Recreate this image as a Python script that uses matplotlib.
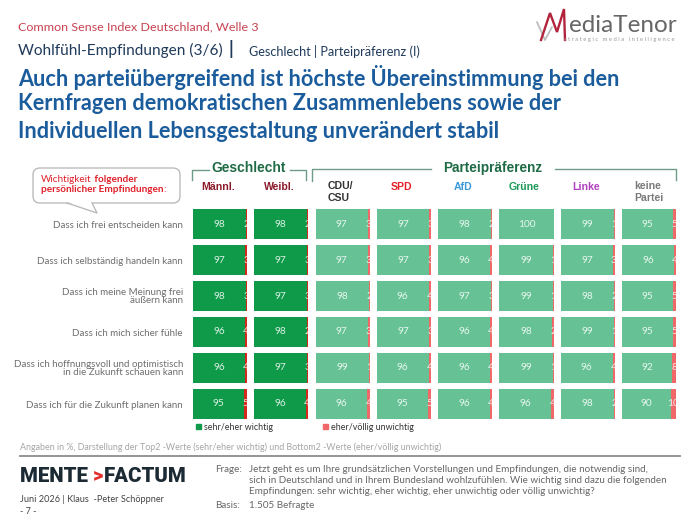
import matplotlib
matplotlib.use("Agg")
import matplotlib.pyplot as plt
from matplotlib.patches import Patch, FancyBboxPatch, Polygon

# ---------------- data ----------------
items = [
    "Dass ich frei entscheiden kann",
    "Dass ich selbständig handeln kann",
    "Dass ich meine Meinung frei\näußern kann",
    "Dass ich mich sicher fühle",
    "Dass ich hoffnungsvoll und optimistisch\nin die Zukunft schauen kann",
    "Dass ich für die Zukunft planen kann",
]
groups = ["Männl.", "Weibl.", "CDU/\nCSU", "SPD", "AfD", "Grüne", "Linke", "keine\nPartei"]
group_colors = ["#8c1c2c", "#8c1c2c", "#333333", "#e8202a", "#3a9ad9", "#1e9a5a", "#b040c0", "#7a7a7a"]

top2_maennl = [98, 97, 98, 96, 96, 95]
top2_weibl = [98, 97, 97, 98, 97, 96]
top2_cdu = [97, 97, 98, 97, 99, 96]
top2_spd = [97, 97, 96, 97, 96, 95]
top2_afd = [98, 96, 97, 96, 96, 96]
top2_gruene = [100, 99, 99, 98, 99, 96]
top2_linke = [99, 97, 98, 99, 96, 98]
top2_keine = [95, 96, 95, 95, 92, 90]

bottom2_maennl = [2, 3, 3, 4, 4, 5]
bottom2_weibl = [2, 3, 3, 2, 3, 4]
bottom2_cdu = [3, 3, 2, 3, 1, 4]
bottom2_spd = [3, 3, 4, 3, 4, 5]
bottom2_afd = [2, 4, 3, 4, 4, 4]
bottom2_gruene = [0, 1, 1, 2, 1, 4]
bottom2_linke = [1, 3, 2, 1, 4, 2]
bottom2_keine = [5, 4, 5, 5, 8, 10]

top2 = [top2_maennl, top2_weibl, top2_cdu, top2_spd, top2_afd, top2_gruene, top2_linke, top2_keine]
bottom2 = [bottom2_maennl, bottom2_weibl, bottom2_cdu, bottom2_spd, bottom2_afd,
           bottom2_gruene, bottom2_linke, bottom2_keine]

legend_labels = ["sehr/eher wichtig", "eher/völlig unwichtig"]

# ---------------- layout ----------------
W, H = 700, 525
fig = plt.figure(figsize=(7, 5.25), dpi=100)
fig.patch.set_facecolor("white")
ov = fig.add_axes([0, 0, 1, 1], zorder=0)
ov.set_xlim(0, W)
ov.set_ylim(H, 0)
ov.axis("off")
R = fig.canvas.get_renderer()

BODY = "Lato"
ARIAL = "Liberation Sans"


def fit(t, w):
    bb = t.get_window_extent(R)
    t.set_fontsize(t.get_fontsize() * w / bb.width)
    return t.get_fontsize()


def measure_size(s, w, **kw):
    t = ov.text(0, 0, s, fontsize=10, **kw)
    size = fit(t, w)
    t.remove()
    return size


# ---------------- header ----------------
t = ov.text(18, 27, "Common Sense Index Deutschland, Welle 3", color="#c8414f",
            family=BODY, va="center", fontsize=9)
fit(t, 240)
t = ov.text(18, 50, "Wohlfühl-Empfindungen (3/6)", color="#1f3a5a", family=BODY,
            va="center", fontsize=11)
fit(t, 204)
ov.text(228, 49, "|", color="#1f3a5a", family=BODY, va="center", fontsize=13, fontweight="bold")
t = ov.text(249, 51, "Geschlecht | Parteipräferenz (I)", color="#1f3a5a", family=BODY,
            va="center", fontsize=8)
fit(t, 171)

title_lines = ["Auch parteiübergreifend ist höchste Übereinstimmung bei den",
               "Kernfragen demokratischen Zusammenlebens sowie der",
               "Individuellen Lebensgestaltung unverändert stabil"]
tsize = measure_size(title_lines[0], 602, family=BODY, fontweight="bold")
for i, line in enumerate(title_lines):
    ov.text(18, 77 + 27 * i, line, color="#1b5c9c", family=BODY, fontweight="bold",
            va="center", fontsize=tsize)

# logo
ov.plot([537, 545, 552], [22, 40, 27], color="#bdbdbd", lw=1.3, solid_capstyle="round")
ov.plot([541, 550, 557, 564, 565], [40, 13, 32, 9, 40], color="#b3243c", lw=1.7,
        solid_joinstyle="miter")
t = ov.text(569, 32, "ediaTenor", color="#666666", family=BODY, va="baseline", fontsize=16)
fit(t, 108)
t = ov.text(564, 40, "s t r a t e g i c   m e d i a   i n t e l l i g e n c e",
            color="#999999", family=BODY, va="center", fontsize=4)
fit(t, 108)

# ---------------- speech bubble ----------------
box = FancyBboxPatch((33, 168), 147, 35, boxstyle="round,pad=0,rounding_size=7",
                     fc="white", ec="#b5b5b5", lw=0.9, zorder=1)
ov.add_patch(box)
ov.add_patch(Polygon([(67.5, 202), (97, 213), (91.5, 202)], closed=True, fc="white",
                     ec="none", zorder=2))
ov.plot([67, 97, 92], [203, 213, 203], color="#b5b5b5", lw=0.9, zorder=3)
bsz = 7.2
b1 = ov.text(41, 180, "Wichtigkeit", color="#e0202a", family=BODY, fontsize=bsz, va="center")
ov.annotate(" folgender", xy=(1, 0.5), xycoords=b1, color="#e0202a", family=BODY,
            fontsize=bsz, fontweight="bold", va="center")
b2 = ov.text(41, 190, "persönlicher Empfindungen", color="#e0202a", family=BODY,
             fontsize=bsz, fontweight="bold", va="center")
ov.annotate(":", xy=(1, 0.5), xycoords=b2, color="#e0202a", family=BODY,
            fontsize=bsz, va="center")

# ---------------- column headers ----------------
lc = "#6f9c86"
ov.plot([192, 192, 209], [180, 170, 170], color=lc, lw=1)
ov.plot([290, 306, 306], [170, 170, 180], color=lc, lw=1)
ov.plot([312, 312, 431], [181, 169, 169], color=lc, lw=1)
ov.plot([555, 676, 676], [169, 169, 180], color=lc, lw=1)
t = ov.text(249, 168, "Geschlecht", color="#1e6b45", family=ARIAL, fontweight="bold",
            ha="center", va="center", fontsize=9)
fit(t, 74)
t = ov.text(493, 168, "Parteipräferenz", color="#1e6b45", family=ARIAL, fontweight="bold",
            ha="center", va="center", fontsize=9)
fit(t, 99)

# ---------------- panels ----------------
left0, step, bw = 193, 61.3, 54
row_top, pitch = 206, 36
n = len(items)
bar_h = 30 / 36
label_size = measure_size(items[0], 131, family=BODY)
axes = []
for gi, g in enumerate(groups):
    x0 = left0 + gi * step
    ax = fig.add_axes([x0 / W, 1 - (row_top + n * pitch) / H, bw / W, n * pitch / H], zorder=2)
    ax.patch.set_alpha(0)
    gender = gi < 2
    cg = "#0f9a4a" if gender else "#66c295"
    cr = "#d42a1e" if gender else "#f06868"
    ypos = list(range(n))
    ax.barh(ypos, top2[gi], height=bar_h, color=cg)
    ax.barh(ypos, bottom2[gi], left=top2[gi], height=bar_h, color=cr)
    ax.set_xlim(0, 100)
    ax.set_ylim(n - 0.5, -0.5)
    for sp in ax.spines.values():
        sp.set_visible(False)
    ax.set_xticks([])
    if gi == 0:
        ax.set_yticks(ypos)
        ax.set_yticklabels(items)
        ax.tick_params(axis="y", length=0, pad=7.2, labelcolor="#6e6e6e", labelsize=label_size)
        for lab in ax.get_yticklabels():
            lab.set_multialignment("right")
            lab.set_linespacing(0.85)
            lab.set_fontfamily(BODY)
    else:
        ax.set_yticks([])
    for i in range(n):
        v, r = top2[gi][i], bottom2[gi][i]
        ax.text(v / 2, i, f"{v}", ha="center", va="center", color="white", alpha=0.85,
                fontsize=7.3, family=BODY)
        if r > 0:
            ax.text(v + r / 2, i, f"{r}", ha="center", va="center", color="white",
                    alpha=0.85, fontsize=7.3, family=BODY, clip_on=True)
    # header
    cx = x0 + bw / 2
    if "\n" in g:
        ov.text(x0 + 12, 192, g, color=group_colors[gi], family=ARIAL, fontweight="bold",
                ha="left", va="center", fontsize=7.6, linespacing=1.25)
    else:
        ov.text(cx - 2, 187, g, color=group_colors[gi], family=ARIAL, fontweight="bold",
                ha="center", va="center", fontsize=7.6)
    axes.append(ax)

# legend
lsize = measure_size(legend_labels[0], 69, family=BODY)
handles = [Patch(color="#129a4c"), Patch(color="#f06868")]
leg = ov.legend(handles, legend_labels, loc="center left", bbox_to_anchor=(196, 427),
                bbox_transform=ov.transData, ncol=2, frameon=False, handlelength=0.6,
                handleheight=0.6, handletextpad=0.3, columnspacing=5.6,
                prop={"family": BODY, "size": lsize}, borderaxespad=0, borderpad=0)
for txt in leg.get_texts():
    txt.set_color("#333333")

# ---------------- footer ----------------
t = ov.text(20, 447, "Angaben in %, Darstellung der Top2 -Werte (sehr/eher wichtig) und "
            "Bottom2 -Werte (eher/völlig unwichtig)", color="#a5a5a5", family=BODY,
            va="center", fontsize=6)
fit(t, 423)
ov.plot([20, 680], [456, 456], color="#8c8c8c", lw=1.3)

mf = dict(family="Roboto", fontweight="black", fontsize=14.7)
m1 = ov.text(20, 476, "MENTE ", color="#1b2a33", va="center", **mf)
m2 = ov.annotate(">", xy=(1, 0.5), xycoords=m1, color="#e03030", va="center", **mf)
m3 = ov.annotate("FACTUM", xy=(1, 0.5), xycoords=m2, color="#1b2a33", va="center", **mf)
t = ov.text(20, 499, "Juni 2026 | Klaus  -Peter Schöppner", color="#444444", family=BODY,
            va="center", fontsize=6.5)
fit(t, 143)
ov.text(20, 512, "- 7 -", color="#444444", family=BODY, va="center", fontsize=6.5)

fq = ["Jetzt geht es um Ihre grundsätzlichen Vorstellungen und Empfindungen, die notwendig sind,",
      "sich in Deutschland und in Ihrem Bundesland wohlzufühlen. Wie wichtig sind dazu die folgenden",
      "Empfindungen: sehr wichtig, eher wichtig, eher unwichtig oder völlig unwichtig?"]
fsize = measure_size(fq[0], 397, family=BODY)
ov.text(215, 470, "Frage:", color="#666666", family=BODY, va="center", fontsize=fsize)
for i, line in enumerate(fq):
    ov.text(249, 470 + 10.5 * i, line, color="#666666", family=BODY, va="center", fontsize=fsize)
ov.text(215, 505, "Basis:", color="#666666", family=BODY, va="center", fontsize=fsize)
ov.text(249, 505, "1.505 Befragte", color="#666666", family=BODY, va="center", fontsize=fsize)

fig.savefig("out.png", dpi=100, facecolor="white")
